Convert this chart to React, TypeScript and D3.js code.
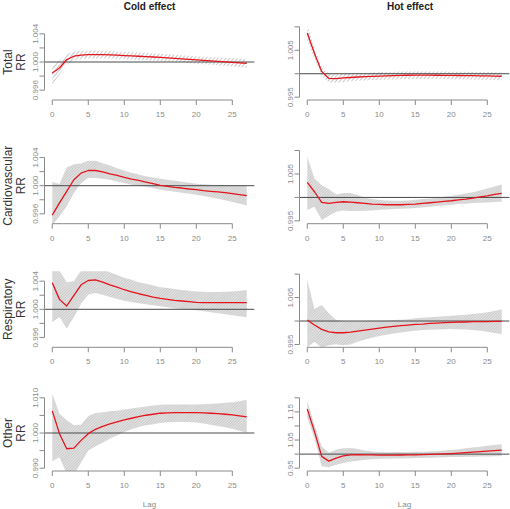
import React from "react";
import * as d3 from "d3";

// ---------- data ----------
const lags = [0,1,2,3,4,5,6,7,8,9,10,11,12,13,14,15,16,17,18,19,20,21,22,23,24,25,26,27];
const xTicks = [0, 5, 10, 15, 20, 25];
const rowNames = ["Total", "Cardiovascular", "Respiratory", "Other"];
const colTitles = ["Cold effect", "Hot effect"];

// Total – cold
const totalColdRR = [0.99843,0.99915,1.00035,1.00082,1.00098,1.00104,1.00106,1.00105,1.00102,1.00097,1.00092,1.00087,1.00082,1.00077,1.00071,1.00066,1.00059,1.00052,1.00044,1.00037,1.00029,1.00022,1.00015,1.00008,1.00001,0.99995,0.99988,0.99981];
const totalColdLo = [0.9968,0.9982,0.9996,1.0002,1.0004,1.00048,1.0005,1.0005,1.00048,1.00044,1.0004,1.00035,1.0003,1.00025,1.0002,1.00015,1.00008,1.0,0.99992,0.99984,0.99976,0.99968,0.9996,0.99952,0.99944,0.99936,0.99928,0.9992];
const totalColdHi = [0.9994,1.0002,1.0011,1.0015,1.0016,1.0016,1.00162,1.0016,1.00156,1.0015,1.00144,1.00139,1.00134,1.00129,1.00122,1.00117,1.0011,1.00104,1.00096,1.0009,1.00082,1.00076,1.0007,1.00064,1.00058,1.00054,1.00048,1.00042];

// Total – hot
const totalHotRR = [1.0087,1.0043,1.0005,0.999,0.99895,0.9991,0.9992,0.9993,0.99938,0.99945,0.9995,0.99955,0.9996,0.99965,0.99968,0.9997,0.9997,0.9997,0.99968,0.99966,0.99964,0.99962,0.9996,0.99958,0.99956,0.99953,0.9995,0.99946];
const totalHotLo = [1.0071,1.0032,0.9996,0.998,0.9981,0.99825,0.9984,0.9985,0.99858,0.99865,0.9987,0.99874,0.99878,0.99882,0.99886,0.9989,0.9989,0.9989,0.99888,0.99886,0.99884,0.99882,0.9988,0.99877,0.99874,0.9987,0.99865,0.9986];
const totalHotHi = [1.0104,1.0054,1.0014,1.0,0.99985,1.0,1.0,1.0001,1.00018,1.00025,1.0003,1.00036,1.00042,1.00047,1.0005,1.0005,1.0005,1.0005,1.00048,1.00046,1.00044,1.00042,1.0004,1.00039,1.00038,1.00036,1.00034,1.00032];

// Cardiovascular – cold
const cardioColdRR = [0.99581,0.99755,0.9992,1.00085,1.00179,1.00216,1.00216,1.00198,1.00169,1.00146,1.00118,1.00094,1.00075,1.00052,1.00028,1.00005,0.99991,0.99976,0.99967,0.99953,0.99944,0.99929,0.9992,0.99911,0.99901,0.99887,0.99873,0.99859];
const cardioColdLo = [0.9944,0.99567,0.99708,0.99896,1.00038,1.00108,1.00108,1.00099,1.00085,1.00061,1.00038,1.00014,1.0,0.99986,0.99967,0.99944,0.99929,0.99915,0.99901,0.99887,0.99873,0.99854,0.99835,0.99816,0.99793,0.99769,0.99746,0.99718];
const cardioColdHi = [1.00052,1.00024,1.00259,1.00306,1.00315,1.00353,1.00353,1.0032,1.00287,1.00249,1.00212,1.00184,1.0016,1.00136,1.00118,1.00099,1.00085,1.00071,1.00056,1.00042,1.00028,1.00019,1.00014,1.00009,1.00009,1.00005,1.00005,1.0];

// Cardiovascular – hot
const cardioHotRR = [1.00319,1.00121,0.99894,0.99872,0.99894,0.99908,0.99901,0.99887,0.99872,0.99858,0.99851,0.99844,0.99844,0.99844,0.99851,0.99858,0.99872,0.99887,0.99901,0.99915,0.99929,0.9995,0.99965,0.99986,1.00014,1.00035,1.00064,1.00085];
const cardioHotLo = [0.9973,0.99801,0.99518,0.9961,0.99695,0.99723,0.99709,0.99709,0.99716,0.99723,0.99738,0.99745,0.99752,0.99759,0.99766,0.99773,0.99787,0.99801,0.99816,0.9983,0.99844,0.99858,0.99865,0.99879,0.99887,0.99894,0.99901,0.99908];
const cardioHotHi = [1.00865,1.00404,1.00262,1.00177,1.00064,1.00092,1.00092,1.0005,0.99993,0.99965,0.99943,0.99936,0.99929,0.99929,0.99936,0.9995,0.99965,0.99979,0.99993,1.00014,1.00035,1.00057,1.00085,1.00113,1.00149,1.00191,1.00234,1.00277];

// Respiratory – cold
const respColdRR = [1.00376,1.00141,1.00047,1.00198,1.00348,1.00409,1.00419,1.00386,1.00348,1.00315,1.00278,1.00249,1.00221,1.00198,1.00174,1.00155,1.00141,1.00127,1.00118,1.00108,1.00099,1.00094,1.00094,1.00094,1.00094,1.00094,1.00094,1.00094];
const respColdLo = [0.99821,0.99892,0.99727,0.99892,1.0008,1.00212,1.00231,1.00207,1.00174,1.00146,1.00122,1.00104,1.00085,1.00071,1.00056,1.00042,1.00028,1.00014,1.00005,0.99995,0.99986,0.99972,0.99958,0.99944,0.99929,0.99915,0.99901,0.99887];
const respColdHi = [1.0056,1.0055,1.00386,1.004,1.0055,1.006,1.006,1.00574,1.00527,1.00489,1.00447,1.00419,1.00386,1.00362,1.00339,1.00315,1.00301,1.00287,1.00273,1.00264,1.00254,1.00249,1.00245,1.00245,1.00249,1.00254,1.00264,1.00273];

// Respiratory – hot
const respHotRR = [1.00021,0.99914,0.99821,0.99771,0.9975,0.9975,0.99764,0.99786,0.99807,0.99829,0.9985,0.99871,0.99886,0.999,0.99914,0.99929,0.99936,0.9995,0.99957,0.99964,0.99971,0.99979,0.99979,0.99986,0.99986,0.99986,0.99993,0.99993];
const respHotLo = [0.9944,0.99557,0.9943,0.99486,0.99507,0.99486,0.995,0.99557,0.99607,0.99643,0.99679,0.99707,0.99736,0.99757,0.99775,0.99793,0.99807,0.99814,0.99821,0.99825,0.99829,0.99825,0.99821,0.99807,0.99793,0.99771,0.99743,0.99721];
const respHotHi = [1.00879,1.0025,1.00343,1.00164,1.00021,1.0,0.99993,0.99993,1.0,1.00004,1.00007,1.00011,1.00021,1.00029,1.00036,1.00057,1.00071,1.00079,1.00093,1.00104,1.00114,1.00121,1.00136,1.0015,1.00168,1.00186,1.00214,1.0025];

// Other – cold
const otherColdRR = [1.00629,0.99981,0.99552,0.99571,0.9979,0.99981,1.00105,1.0019,1.00257,1.00314,1.00371,1.00419,1.00467,1.00505,1.00533,1.00562,1.00571,1.00581,1.00581,1.00581,1.00581,1.00571,1.00562,1.00552,1.00533,1.00514,1.00486,1.00457];
const otherColdLo = [0.992,0.9931,0.9885,0.988,0.9917,0.995,0.9962,0.99724,0.99838,0.99933,1.00029,1.00105,1.00171,1.00219,1.00248,1.00286,1.00305,1.00314,1.00314,1.00314,1.00295,1.00267,1.00238,1.002,1.00162,1.00124,1.00067,1.0001];
const otherColdHi = [1.0112,1.0055,1.00362,1.00219,1.00238,1.00486,1.00571,1.0059,1.00619,1.00629,1.00667,1.00695,1.00724,1.00752,1.00781,1.008,1.0081,1.0081,1.0081,1.0081,1.0081,1.00819,1.00829,1.00838,1.00857,1.00876,1.00905,1.00943];

// Other – hot
const otherHotRR = [1.16,1.08,0.992,0.975,0.986,0.994,0.9975,0.998,0.9975,0.997,0.9965,0.9965,0.9966,0.9968,0.9972,0.9976,0.998,0.9988,0.9996,1.0006,1.002,1.0036,1.0052,1.0068,1.0086,1.0104,1.0122,1.0141];
const otherHotLo = [1.129,1.0565,0.9565,0.9529,0.9624,0.9682,0.9741,0.9765,0.98,0.9818,0.9835,0.9838,0.984,0.9845,0.985,0.9859,0.9865,0.987,0.9878,0.9886,0.9894,0.99,0.9906,0.991,0.9914,0.9918,0.9924,0.9929];
const otherHotHi = [1.188,1.1035,1.027,1.005,1.0153,1.0212,1.022,1.018,1.013,1.0094,1.0071,1.007,1.0071,1.0073,1.0076,1.008,1.0087,1.0095,1.0105,1.0125,1.0148,1.0175,1.0205,1.0235,1.0265,1.0294,1.0323,1.0353];

// y axis ticks / labels
const coldTicks = [0.996, 0.998, 1.0, 1.002, 1.004];
const coldTickLabels = ["0.996", "", "1.000", "", "1.004"];
const otherColdTicks = [0.99, 0.995, 1.0, 1.005, 1.01];
const otherColdTickLabels = ["0.990", "", "1.000", "", "1.010"];
const hotTicks = [0.995, 1.0, 1.005, 1.01];
const hotTickLabels = ["0.995", "", "1.005", ""];
const otherHotTicks = [0.95, 1.0, 1.05, 1.1, 1.15, 1.2];
const otherHotTickLabels = ["0.95", "", "1.05", "", "1.15", ""];

const coldDomain = [0.9946, 1.0054];
const otherColdDomain = [0.9892, 1.0108];
const hotDomain = [0.9944, 1.0106];
const otherHotDomain = [0.94, 1.21];

const panels = [
  [
    { rr: totalColdRR, lo: totalColdLo, hi: totalColdHi, dom: coldDomain, ticks: coldTicks, labels: coldTickLabels, sparse: true },
    { rr: totalHotRR, lo: totalHotLo, hi: totalHotHi, dom: hotDomain, ticks: hotTicks, labels: hotTickLabels, sparse: true },
  ],
  [
    { rr: cardioColdRR, lo: cardioColdLo, hi: cardioColdHi, dom: coldDomain, ticks: coldTicks, labels: coldTickLabels, sparse: false },
    { rr: cardioHotRR, lo: cardioHotLo, hi: cardioHotHi, dom: hotDomain, ticks: hotTicks, labels: hotTickLabels, sparse: false },
  ],
  [
    { rr: respColdRR, lo: respColdLo, hi: respColdHi, dom: coldDomain, ticks: coldTicks, labels: coldTickLabels, sparse: false },
    { rr: respHotRR, lo: respHotLo, hi: respHotHi, dom: hotDomain, ticks: hotTicks, labels: hotTickLabels, sparse: false },
  ],
  [
    { rr: otherColdRR, lo: otherColdLo, hi: otherColdHi, dom: otherColdDomain, ticks: otherColdTicks, labels: otherColdTickLabels, sparse: false },
    { rr: otherHotRR, lo: otherHotLo, hi: otherHotHi, dom: otherHotDomain, ticks: otherHotTicks, labels: otherHotTickLabels, sparse: false },
  ],
];

// ---------- layout ----------
const W = 510;
const H = 509;
const colLeft = [44.5, 299.5];
const plotW = 210;
const rowBottom = [100, 223.7, 347.3, 471];
const plotH = 76;
const FONT = "'Liberation Sans', Arial, Helvetica, sans-serif";
const AXIS = "#8a8a8a";
const TXT = "#8a8a8a";

function Panel({ r, c, p }: any) {
  const x0 = colLeft[c];
  const yb = rowBottom[r];
  const yt = yb - plotH;
  const x = d3.scaleLinear().domain([-1.08, 28.08]).range([x0, x0 + plotW]);
  const y = d3.scaleLinear().domain(p.dom).range([yb, yt]);
  const area = d3
    .area<number>()
    .x((d) => x(d))
    .y0((d, i) => y(p.lo[i]))
    .y1((d, i) => y(p.hi[i]));
  const line = d3
    .line<number>()
    .x((d) => x(d))
    .y((d, i) => y(p.rr[i]));
  const clipId = `clip-${r}-${c}`;
  const t0 = p.ticks[0];
  const t1 = p.ticks[p.ticks.length - 1];
  return (
    <g>
      <defs>
        <clipPath id={clipId}>
          <rect x={x0} y={yt} width={plotW} height={plotH} />
        </clipPath>
      </defs>
      <g clipPath={`url(#${clipId})`}>
        <path d={area(lags) || ""} fill={p.sparse ? "url(#hatchSparse)" : "url(#hatchDense)"} stroke="none" />
        <line x1={x0} x2={x0 + plotW} y1={y(1)} y2={y(1)} stroke="#4a4a4a" strokeWidth={1} />
        <path d={line(lags) || ""} fill="none" stroke="#e3141c" strokeWidth={1.3} strokeLinejoin="round" />
      </g>
      {/* y axis */}
      <line x1={x0} x2={x0} y1={y(t0)} y2={y(t1)} stroke={AXIS} strokeWidth={1} />
      {p.ticks.map((t: number, i: number) => (
        <g key={`yt${i}`}>
          <line x1={x0 - 5} x2={x0} y1={y(t)} y2={y(t)} stroke={AXIS} strokeWidth={1} />
          {p.labels[i] ? (
            <text
              transform={`translate(${x0 - 7},${y(t)}) rotate(-90)`}
              textAnchor="middle"
              fontSize={8}
              fill={TXT}
              fontFamily={FONT}
            >
              {p.labels[i]}
            </text>
          ) : null}
        </g>
      ))}
      {/* x axis */}
      <line x1={x(xTicks[0])} x2={x(xTicks[xTicks.length - 1])} y1={yb} y2={yb} stroke={AXIS} strokeWidth={1} />
      {xTicks.map((t) => (
        <g key={`xt${t}`}>
          <line x1={x(t)} x2={x(t)} y1={yb} y2={yb + 5} stroke={AXIS} strokeWidth={1} />
          <text x={x(t)} y={yb + 17} textAnchor="middle" fontSize={8} fill={TXT} fontFamily={FONT}>
            {t}
          </text>
        </g>
      ))}
    </g>
  );
}

export default function App() {
  return (
    <svg
      width={W}
      height={H}
      viewBox={`0 0 ${W} ${H}`}
      style={{ position: "absolute", left: 0, top: 0, background: "#fff" }}
    >
      <defs>
        <pattern id="hatchSparse" width={3} height={3} patternUnits="userSpaceOnUse" patternTransform="rotate(40)">
          <line x1={0} y1={0} x2={0} y2={3} stroke="#888" strokeWidth={0.9} />
        </pattern>
        <pattern id="hatchDense" width={2} height={2} patternUnits="userSpaceOnUse" patternTransform="rotate(45)">
          <rect width={2} height={2} fill="#e4e4e4" />
          <line x1={0} y1={0} x2={0} y2={2} stroke="#a6a6a6" strokeWidth={0.8} />
        </pattern>
      </defs>
      <rect width={W} height={H} fill="#fff" />
      {colTitles.map((t, i) => (
        <text
          key={t}
          x={i === 0 ? 149.5 : 410}
          y={10}
          textAnchor="middle"
          fontSize={10}
          fontWeight="bold"
          fill="#222"
          fontFamily={FONT}
        >
          {t}
        </text>
      ))}
      {rowNames.map((name, r) => {
        const cy = rowBottom[r] - plotH / 2;
        return (
          <g key={name}>
            <text transform={`translate(12,${cy}) rotate(-90)`} textAnchor="middle" fontSize={12} fill="#333" fontFamily={FONT}>
              {name}
            </text>
            <text transform={`translate(25,${cy}) rotate(-90)`} textAnchor="middle" fontSize={12} fill="#333" fontFamily={FONT}>
              RR
            </text>
          </g>
        );
      })}
      {panels.map((row, r) => row.map((p, c) => <Panel key={`${r}-${c}`} r={r} c={c} p={p} />))}
      {colLeft.map((x0, i) => (
        <text key={`lag${i}`} x={x0 + 105} y={507} textAnchor="middle" fontSize={8} fill={TXT} fontFamily={FONT}>
          Lag
        </text>
      ))}
    </svg>
  );
}
